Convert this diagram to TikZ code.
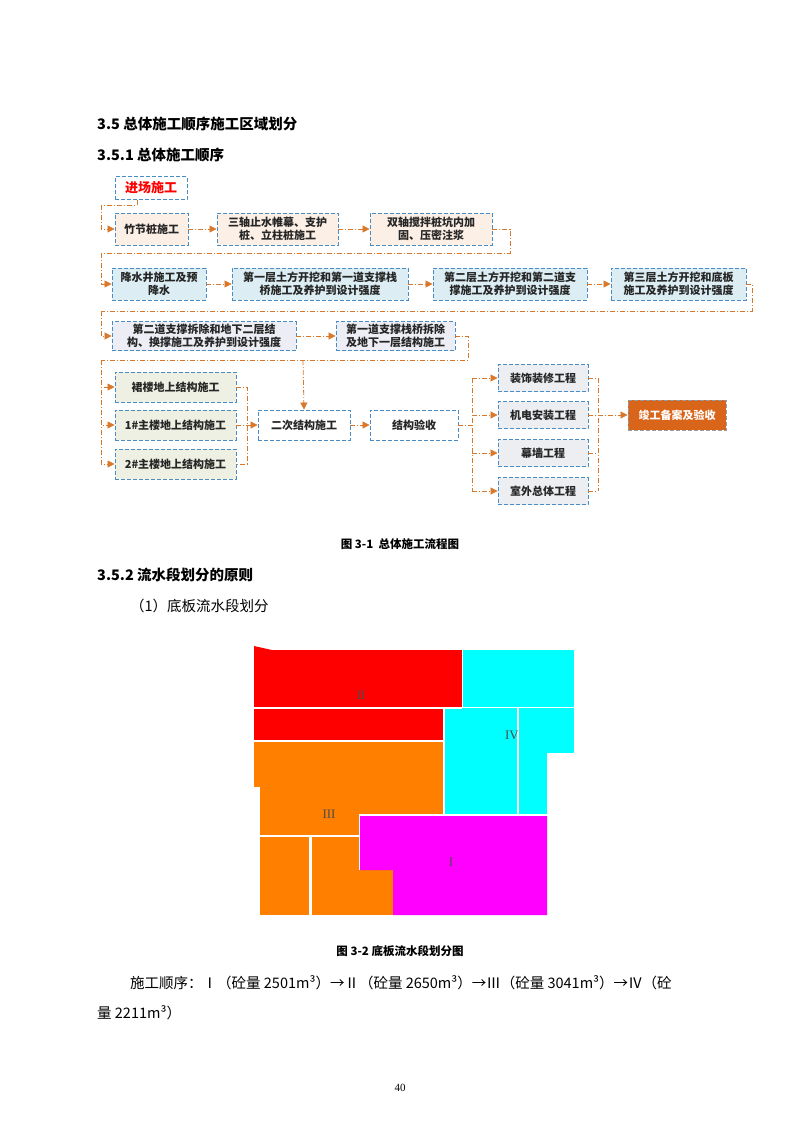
\documentclass[tikz,border=0pt]{standalone}
\usepackage{fontspec}
\setmainfont{Liberation Serif}
\newfontfamily\cjk{Noto Sans CJK SC}
\usetikzlibrary{arrows.meta}
\definecolor{ln}{HTML}{D9782B}
\definecolor{bd}{HTML}{4A8CC4}
\definecolor{pe}{HTML}{FCEFE6}
\definecolor{lb}{HTML}{DCEEF4}
\definecolor{lv}{HTML}{EDEEF5}
\definecolor{lg}{HTML}{EEF0E3}
\definecolor{lgr}{HTML}{ECEEF2}
\definecolor{dk}{HTML}{D9651B}
\definecolor{pR}{HTML}{FF0000}
\definecolor{pC}{HTML}{00FFFF}
\definecolor{pO}{HTML}{FF8000}
\definecolor{pM}{HTML}{FF00FF}
\tikzset{
 box/.style={draw=bd,dashed,line width=0.9pt,dash pattern=on 4pt off 2pt,inner sep=1pt,align=center,font=\cjk\bfseries\fontsize{11}{12.5}\selectfont,text=black!85},
 con/.style={draw=ln,line width=0.8pt,dash pattern=on 5pt off 2pt on 1pt off 2pt},
 arr/.style={con,-{Triangle[length=7pt,width=7pt]}},
 head/.style={anchor=west,font=\cjk\bfseries\fontsize{14.5}{16}\selectfont,inner sep=0},
 body/.style={anchor=west,font=\cjk\fontsize{14.5}{16}\selectfont,inner sep=0},
 captxt/.style={font=\cjk\bfseries\fontsize{11.5}{13}\selectfont,inner sep=0},
 seg/.style={draw=white,line width=1.2pt},
 rom/.style={font=\fontsize{13}{15}\selectfont,text=black!70}
}
\begin{document}
\begin{tikzpicture}[x=1pt,y=-1pt]
\useasboundingbox[fill=white] (0,0) rectangle (800,1132);
\node[head] (h1) at (97,124) {3.5 总体施工顺序施工区域划分};
\node[head] (h2) at (97,155) {3.5.1 总体施工顺序};
% boxes
\node[box,minimum width=72,minimum height=23,text=red,font=\cjk\bfseries\fontsize{13}{15}\selectfont] (b0) at (151,188) {进场施工};
\node[box,fill=pe,minimum width=73,minimum height=32] (a1) at (151.5,229) {竹节桩施工};
\node[box,fill=pe,minimum width=121,minimum height=32] (a2) at (277.5,229) {三轴止水帷幕、支护\\桩、立柱桩施工};
\node[box,fill=pe,minimum width=122,minimum height=32] (a3) at (431,229) {双轴搅拌桩坑内加\\固、压密注浆};
\node[box,fill=lb,minimum width=94,minimum height=32] (c1) at (159,284) {降水井施工及预\\降水};
\node[box,fill=lb,minimum width=176,minimum height=32] (c2) at (320,284) {第一层土方开挖和第一道支撑栈\\桥施工及养护到设计强度};
\node[box,fill=lb,minimum width=154,minimum height=32] (c3) at (510,284) {第二层土方开挖和第二道支\\撑施工及养护到设计强度};
\node[box,fill=lb,minimum width=135,minimum height=32] (c4) at (678.5,284) {第三层土方开挖和底板\\施工及养护到设计强度};
\node[box,fill=lv,minimum width=184,minimum height=29] (d1) at (204,336) {第二道支撑拆除和地下二层结\\构、换撑施工及养护到设计强度};
\node[box,fill=lv,minimum width=119,minimum height=29] (d2) at (395.5,336) {第一道支撑栈桥拆除\\及地下一层结构施工};
\node[box,fill=lg,minimum width=121,minimum height=30] (e1) at (175.5,387) {裙楼地上结构施工};
\node[box,fill=lg,minimum width=121,minimum height=30] (e2) at (175.5,425) {1\#主楼地上结构施工};
\node[box,fill=lg,minimum width=121,minimum height=30] (e3) at (175.5,464) {2\#主楼地上结构施工};
\node[box,fill=white,minimum width=92,minimum height=30] (f1) at (304,425) {二次结构施工};
\node[box,fill=white,minimum width=88,minimum height=30] (f2) at (414,425) {结构验收};
\node[box,fill=lgr,minimum width=90,minimum height=27] (g1) at (543,378) {装饰装修工程};
\node[box,fill=lgr,minimum width=90,minimum height=27] (g2) at (543,415) {机电安装工程};
\node[box,fill=lgr,minimum width=90,minimum height=27] (g3) at (543,453) {幕墙工程};
\node[box,fill=lgr,minimum width=90,minimum height=27] (g4) at (543,491) {室外总体工程};
\node[box,draw=black!40,fill=dk,text=white,minimum width=98,minimum height=30] (k) at (677,415) {竣工备案及验收};
% connectors
\coordinate (p0) at (137,205);
\coordinate (p1) at (101,205);
\draw[con] (b0.south -| p0) -- (p0) -- (p1);
\draw[arr] (p1) |- (a1.west);
\draw[arr] (a1) -- (a2);
\draw[arr] (a2) -- (a3);
\coordinate (q0) at (510,229);
\coordinate (q1) at (510,253);
\coordinate (q2) at (101,253);
\draw[con] (a3.east) -- (q0) -- (q1) -- (q2);
\draw[arr] (q2) |- (c1.west);
\draw[arr] (c1) -- (c2);
\draw[arr] (c2) -- (c3);
\draw[arr] (c3) -- (c4);
\coordinate (r0) at (752,284);
\coordinate (r1) at (752,311);
\coordinate (r2) at (101,311);
\draw[con] (c4.east) -- (r0) -- (r1) -- (r2);
\draw[arr] (r2) |- (d1.west);
\draw[arr] (d1) -- (d2);
\coordinate (s0) at (468,336);
\coordinate (s1) at (468,360);
\coordinate (s2) at (101,360);
\coordinate (s3) at (303,360);
\draw[con] (d2.east) -- (s0) -- (s1) -- (s2);
\draw[arr] (s3) -- (f1.north);
\draw[arr] (s2) |- (e1.west);
\draw[arr] (s2) |- (e2.west);
\draw[arr] (s2) |- (e3.west);
\coordinate (t0) at (247,387);
\coordinate (t1) at (247,464);
\draw[con] (e1.east) -- (t0) -- (t1) -- (e3.east);
\draw[arr] (e2.east) -- (f1.west);
\draw[arr] (f1) -- (f2);
\coordinate (u0) at (472,425);
\coordinate (u1) at (472,378);
\coordinate (u2) at (472,491);
\draw[con] (f2.east) -- (u0);
\draw[con] (u1) -- (u2);
\foreach \g in {g1,g2,g3,g4} \draw[arr] (u1 |- \g.west) -- (\g.west);
\coordinate (v1) at (598,378);
\coordinate (v2) at (598,491);
\draw[con] (v1) -- (v2);
\foreach \g in {g1,g3,g4} \draw[con] (\g.east) -- (v1 |- \g.east);
\draw[arr] (g2.east) -- (k.west);
\node[captxt] (cap1) at (400,544) {图 3-1\ \ 总体施工流程图};
\node[head] (h3) at (97,575) {3.5.2 流水段划分的原则};
\node[body] (h4) at (130,606) {（1）底板流水段划分};
% floor plan
\fill[pR] (254,650) -- (254,646) -- (272,650) -- cycle;
\fill[pR] (254,650) rectangle (462,708);
\fill[pR] (254,708) rectangle (444,740);
\fill[pC] (463,650) rectangle (574,707);
\fill[pC] (445,708) rectangle (517,814);
\fill[pC] (519,708) rectangle (574,753);
\fill[pC] (519,753) rectangle (547,814);
\fill[pO] (254,742) rectangle (444,787);
\fill[pO] (260,787) rectangle (444,814);
\fill[pO] (260,814) rectangle (359,835);
\fill[pO] (260,837) rectangle (309,915);
\fill[pO] (312,837) rectangle (359,915);
\fill[pO] (359,870) rectangle (393,915);
\fill[pM] (360,816) -- (547,816) -- (547,915) -- (393,915) -- (393,870) -- (360,870) -- cycle;
\draw[seg] (254,708) -- (462,708);
\draw[seg] (518,708) -- (518,814);
\draw[seg] (254,741) -- (444,741);
\draw[seg] (444,708) -- (444,814);
\node[rom] (r2n) at (361,695) {II};
\node[rom] (r4n) at (512,735) {IV};
\node[rom] (r3n) at (329,814) {III};
\node[rom] (r1n) at (451,862) {I};
\node[captxt] (cap2) at (400,951) {图 3-2 底板流水段划分图};
\node[body] (t1n) at (130,983) {施工顺序：Ⅰ（砼量 2501m³）→Ⅱ（砼量 2650m³）→Ⅲ（砼量 3041m³）→Ⅳ（砼};
\node[body] (t2n) at (97,1013) {量 2211m³）};
\node[font=\fontsize{11}{13}\selectfont] (pg) at (400,1088) {40};
\end{tikzpicture}
\end{document}
